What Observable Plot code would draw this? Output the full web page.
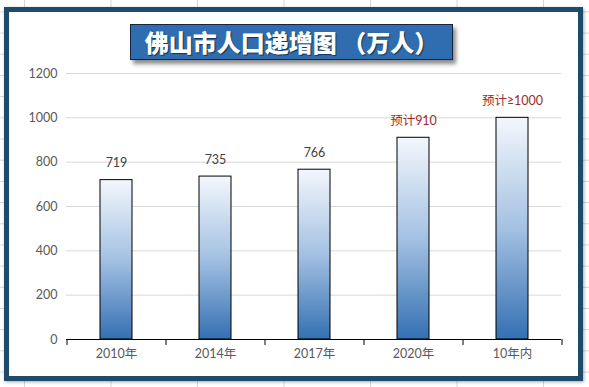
<!DOCTYPE html>
<html><head><meta charset="utf-8">
<script src="https://cdn.jsdelivr.net/npm/d3@7"></script>
<script src="https://cdn.jsdelivr.net/npm/@observablehq/plot@0.6"></script>
<style>
html,body{margin:0;padding:0;background:#fff;}
#wrap{position:relative;width:589px;height:387px;overflow:hidden;background-color:#fff;
 background-image:linear-gradient(to right,#d6d6d6 1px,transparent 1px),linear-gradient(to bottom,#d6d6d6 1px,transparent 1px);
 background-size:86.5px 21.2px;background-position:24px 11.4px;}
#frame{position:absolute;left:4px;top:7px;width:569px;height:364px;border:5px solid #1f4b6b;background:#fff;box-shadow:1px 1px 3px rgba(0,0,0,.35);}
#chart{position:absolute;left:0;top:0;}
#title{position:absolute;left:130px;top:24px;width:321px;height:34px;background:#2f6db0;border:1px solid #16263a;
 box-shadow:3px 4px 4px rgba(0,0,0,.45);color:#fff;font-family:"Noto Sans CJK SC",sans-serif;font-weight:900;
 font-size:24px;line-height:34px;text-align:center;text-shadow:1px 1px 1px rgba(0,0,0,.55);white-space:nowrap;}
</style></head>
<body>
<div id="wrap"><div id="frame"></div><div id="chart"></div><div id="title">佛山市人口递增图 （万人）</div></div>
<script>
const categories = ["2010年", "2014年", "2017年", "2020年", "10年内"];
const values = [719, 735, 766, 910, 1000];
const valueLabels = ["719", "735", "766", "预计910", "预计≥1000"];
const labelColors = ["#404040", "#404040", "#404040", "#9b2d2d", "#9b2d2d"];
const yTicks = [0, 200, 400, 600, 800, 1000, 1200];

const data = categories.map((c, i) => ({cat: c, value: values[i], label: valueLabels[i], color: labelColors[i]}));

const gradDefs = () => {
  const defs = d3.create("svg:defs");
  const g = defs.append("linearGradient").attr("id", "barGrad")
    .attr("x1", 0).attr("y1", 0).attr("x2", 0).attr("y2", 1);
  g.append("stop").attr("offset", "0%").attr("stop-color", "#f3f7fc");
  g.append("stop").attr("offset", "50%").attr("stop-color", "#a4c1e3");
  g.append("stop").attr("offset", "100%").attr("stop-color", "#3470b2");
  return defs.node();
};

const font = "Lato, 'Noto Sans CJK SC', sans-serif";
const chart = Plot.plot({
  width: 589, height: 387,
  marginLeft: 66, marginRight: 28, marginTop: 73, marginBottom: 48,
  style: {background: "transparent", fontFamily: font, fontSize: "12px", color: "#595959"},
  x: {domain: categories, paddingInner: 0.68, paddingOuter: 0.34},
  y: {domain: [0, 1200]},
  color: {type: "identity"},
  marks: [
    gradDefs,
    Plot.gridY(yTicks, {stroke: "#d9d9d9", strokeOpacity: 1}),
    Plot.axisY(yTicks, {tickSize: 0, tickPadding: 9, fontSize: 12.5, color: "#595959", label: null, tickFormat: d => String(d)}),
    Plot.barY(data, {x: "cat", y: "value", fill: "url(#barGrad)", stroke: "#000", strokeWidth: 1}),
    Plot.ruleY([0], {stroke: "#000", strokeWidth: 1}),
    Plot.ruleX(categories, {x: d => d, y1: 0, y2: -27, dx: -49.5, stroke: "#000"}),
    Plot.ruleX(categories.slice(-1), {x: d => d, y1: 0, y2: -27, dx: 49.5, stroke: "#000"}),
    Plot.axisX({tickSize: 0, tickPadding: 10, fontSize: 12.5, color: "#595959", label: null}),
    Plot.text(data, {x: "cat", y: "value", text: "label", fill: "color", dy: -17, fontSize: 12.5})
  ]
});
document.getElementById("chart").appendChild(chart);
</script>
</body></html>
